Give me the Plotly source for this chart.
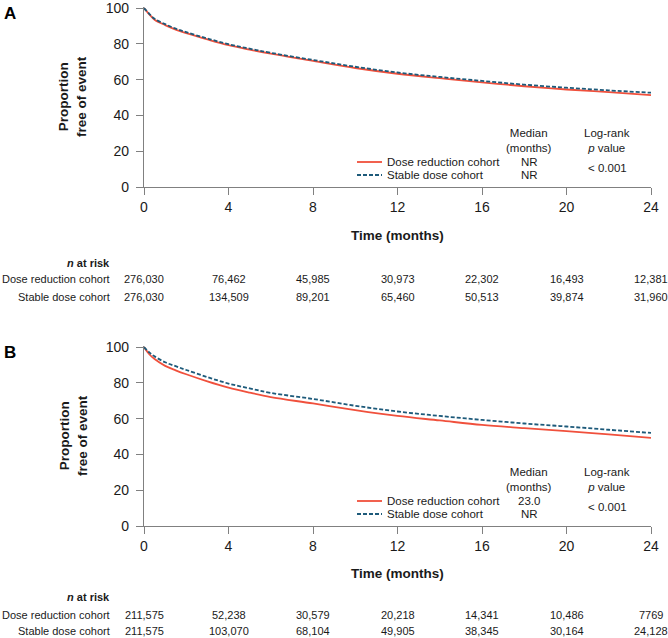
import plotly.graph_objects as go

months = [0, 0.25, 0.5, 1, 1.5, 2, 3, 4, 5, 6, 8, 10, 12, 14, 16, 18, 20, 22, 24]

# panel A
a_reduction = [100, 96.5, 93.5, 90.5, 88.0, 86.0, 82.5, 79.3, 76.8, 74.5, 70.5, 66.5, 63.3, 60.8, 58.5, 56.3, 54.5, 53.0, 51.3]
a_stable = [100, 96.8, 94.0, 91.0, 88.5, 86.5, 83.0, 79.8, 77.3, 75.0, 71.0, 67.2, 64.0, 61.5, 59.3, 57.2, 55.5, 54.0, 52.7]

# panel B
b_reduction = [100, 96.0, 93.3, 89.5, 87.0, 84.8, 80.8, 77.3, 74.5, 72.0, 68.5, 64.8, 61.5, 59.0, 56.5, 54.7, 53.0, 51.2, 49.3]
b_stable = [100, 97.0, 94.8, 91.5, 89.3, 87.2, 83.2, 79.6, 76.9, 74.4, 71.0, 67.2, 64.0, 61.5, 59.3, 57.3, 55.6, 53.8, 52.0]

risk_months = [0, 4, 8, 12, 16, 20, 24]
a_risk_reduction = ["276,030", "76,462", "45,985", "30,973", "22,302", "16,493", "12,381"]
a_risk_stable = ["276,030", "134,509", "89,201", "65,460", "50,513", "39,874", "31,960"]
b_risk_reduction = ["211,575", "52,238", "30,579", "20,218", "14,341", "10,486", "7769"]
b_risk_stable = ["211,575", "103,070", "68,104", "49,905", "38,345", "30,164", "24,128"]

a_median = ["NR", "NR"]
b_median = ["23.0", "NR"]
pvalue = "&lt; 0.001"

RED = "#f0503c"
BLUE = "#1d5a7a"
AX = "#808080"
TXT = "#1a1a1a"
FONT = "Liberation Sans, Arial, sans-serif"

W, H = 668, 638


def px(x):
    return x / W


def py(y):
    return 1 - y / H


fig = go.Figure()

panels = [
    # (xaxis, yaxis, reduction, stable, risk_red, risk_stable, median, top px, bottom px, letter,
    #  offsets below axis for: x title, "n at risk", row 1, row 2)
    ("x", "y", a_reduction, a_stable, a_risk_reduction, a_risk_stable, a_median, 7, 187, "A", (49, 76, 92, 110)),
    ("x2", "y2", b_reduction, b_stable, b_risk_reduction, b_risk_stable, b_median, 346, 526, "B", (47, 71, 89, 105)),
]

for xa, ya, red, stab, rr, rs, med, top, bot, letter, offs in panels:
    fig.add_trace(go.Scatter(x=months, y=red, mode="lines", line=dict(color=RED, width=1.8, shape="spline"),
                             xaxis=xa, yaxis=ya, showlegend=False, name="Dose reduction cohort"))
    fig.add_trace(go.Scatter(x=months, y=stab, mode="lines",
                             line=dict(color=BLUE, width=1.8, dash="4px,2px", shape="spline"),
                             xaxis=xa, yaxis=ya, showlegend=False, name="Stable dose cohort"))

    # panel letter
    fig.add_annotation(x=px(2), y=py(top + 6), xref="paper", yref="paper", text="<b>%s</b>" % letter,
                       showarrow=False, xanchor="left", yanchor="middle", font=dict(size=17, color="black"))
    # y title
    fig.add_annotation(x=px(73), y=py((top + bot) / 2), xref="paper", yref="paper",
                       text="<b>Proportion<br>free of event</b>", textangle=-90, showarrow=False,
                       xanchor="center", yanchor="middle", font=dict(size=13.5, color=TXT))
    # x title
    fig.add_annotation(x=12, y=py(bot + offs[0]), xref=xa, yref="paper", text="<b>Time (months)</b>",
                       showarrow=False, xanchor="center", yanchor="middle", font=dict(size=13.5, color=TXT))

    # legend block
    ly1 = bot - 25
    ly2 = bot - 12
    fig.add_shape(type="line", xref="paper", yref="paper", x0=px(357), x1=px(382), y0=py(ly1), y1=py(ly1),
                  line=dict(color=RED, width=1.8))
    fig.add_shape(type="line", xref="paper", yref="paper", x0=px(357), x1=px(382), y0=py(ly2), y1=py(ly2),
                  line=dict(color=BLUE, width=1.8, dash="4px,2px"))
    for yy, lab, m in [(ly1, "Dose reduction cohort", med[0]), (ly2, "Stable dose cohort", med[1])]:
        fig.add_annotation(x=px(385), y=py(yy), xref="paper", yref="paper", text=lab, showarrow=False,
                           xanchor="left", yanchor="middle", font=dict(size=11.5, color=TXT))
        fig.add_annotation(x=px(529), y=py(yy), xref="paper", yref="paper", text=m, showarrow=False,
                           xanchor="center", yanchor="middle", font=dict(size=11.5, color=TXT))
    fig.add_annotation(x=px(529), y=py(bot - 47), xref="paper", yref="paper", text="Median<br>(months)",
                       showarrow=False, xanchor="center", yanchor="middle", font=dict(size=11.5, color=TXT))
    fig.add_annotation(x=px(607), y=py(bot - 47), xref="paper", yref="paper", text="Log-rank<br><i>p</i> value",
                       showarrow=False, xanchor="center", yanchor="middle", font=dict(size=11.5, color=TXT))
    fig.add_annotation(x=px(607), y=py(bot - 19), xref="paper", yref="paper", text=pvalue,
                       showarrow=False, xanchor="center", yanchor="middle", font=dict(size=11.5, color=TXT))

    # number at risk table
    fig.add_annotation(x=px(112), y=py(bot + offs[1]), xref="paper", yref="paper", text="<b><i>n</i> at risk</b>",
                       showarrow=False, xanchor="right", yanchor="middle", font=dict(size=11, color=TXT))
    for yy, lab, vals in [(bot + offs[2], "Dose reduction cohort", rr), (bot + offs[3], "Stable dose cohort", rs)]:
        fig.add_annotation(x=px(112), y=py(yy), xref="paper", yref="paper", text=lab, showarrow=False,
                           xanchor="right", yanchor="middle", font=dict(size=11, color=TXT))
        for m, v in zip(risk_months, vals):
            fig.add_annotation(x=m, y=py(yy), xref=xa, yref="paper", text=v, showarrow=False,
                               xanchor="center", yanchor="middle", font=dict(size=11, color=TXT))

xdom = [px(144), px(651)]
axis_common = dict(showline=True, linecolor=AX, linewidth=1.3, ticks="outside", tickcolor=AX, ticklen=7,
                   tickwidth=1.3, showgrid=False, zeroline=False, automargin=False,
                   tickfont=dict(size=14, color=TXT))

fig.update_layout(
    width=W, height=H, margin=dict(l=0, r=0, t=0, b=0),
    plot_bgcolor="white", paper_bgcolor="white",
    font=dict(family=FONT, color=TXT),
    xaxis=dict(domain=xdom, range=[0, 24], tickvals=risk_months, anchor="y", **axis_common),
    yaxis=dict(domain=[py(187), py(7)], range=[0, 100.6], tickvals=[0, 20, 40, 60, 80, 100], anchor="x",
               ticklabelstandoff=4, ticklabeloverflow="allow", **axis_common),
    xaxis2=dict(domain=xdom, range=[0, 24], tickvals=risk_months, anchor="y2", **axis_common),
    yaxis2=dict(domain=[py(526), py(346)], range=[0, 100.6], tickvals=[0, 20, 40, 60, 80, 100], anchor="x2",
                ticklabelstandoff=4, **axis_common),
)

# page has a default 8px body margin; drop it so the figure fills the window exactly
fig.write_html("out.html", config={"displayModeBar": False},
               post_script="document.body.style.margin='0';document.body.style.overflow='hidden';")
